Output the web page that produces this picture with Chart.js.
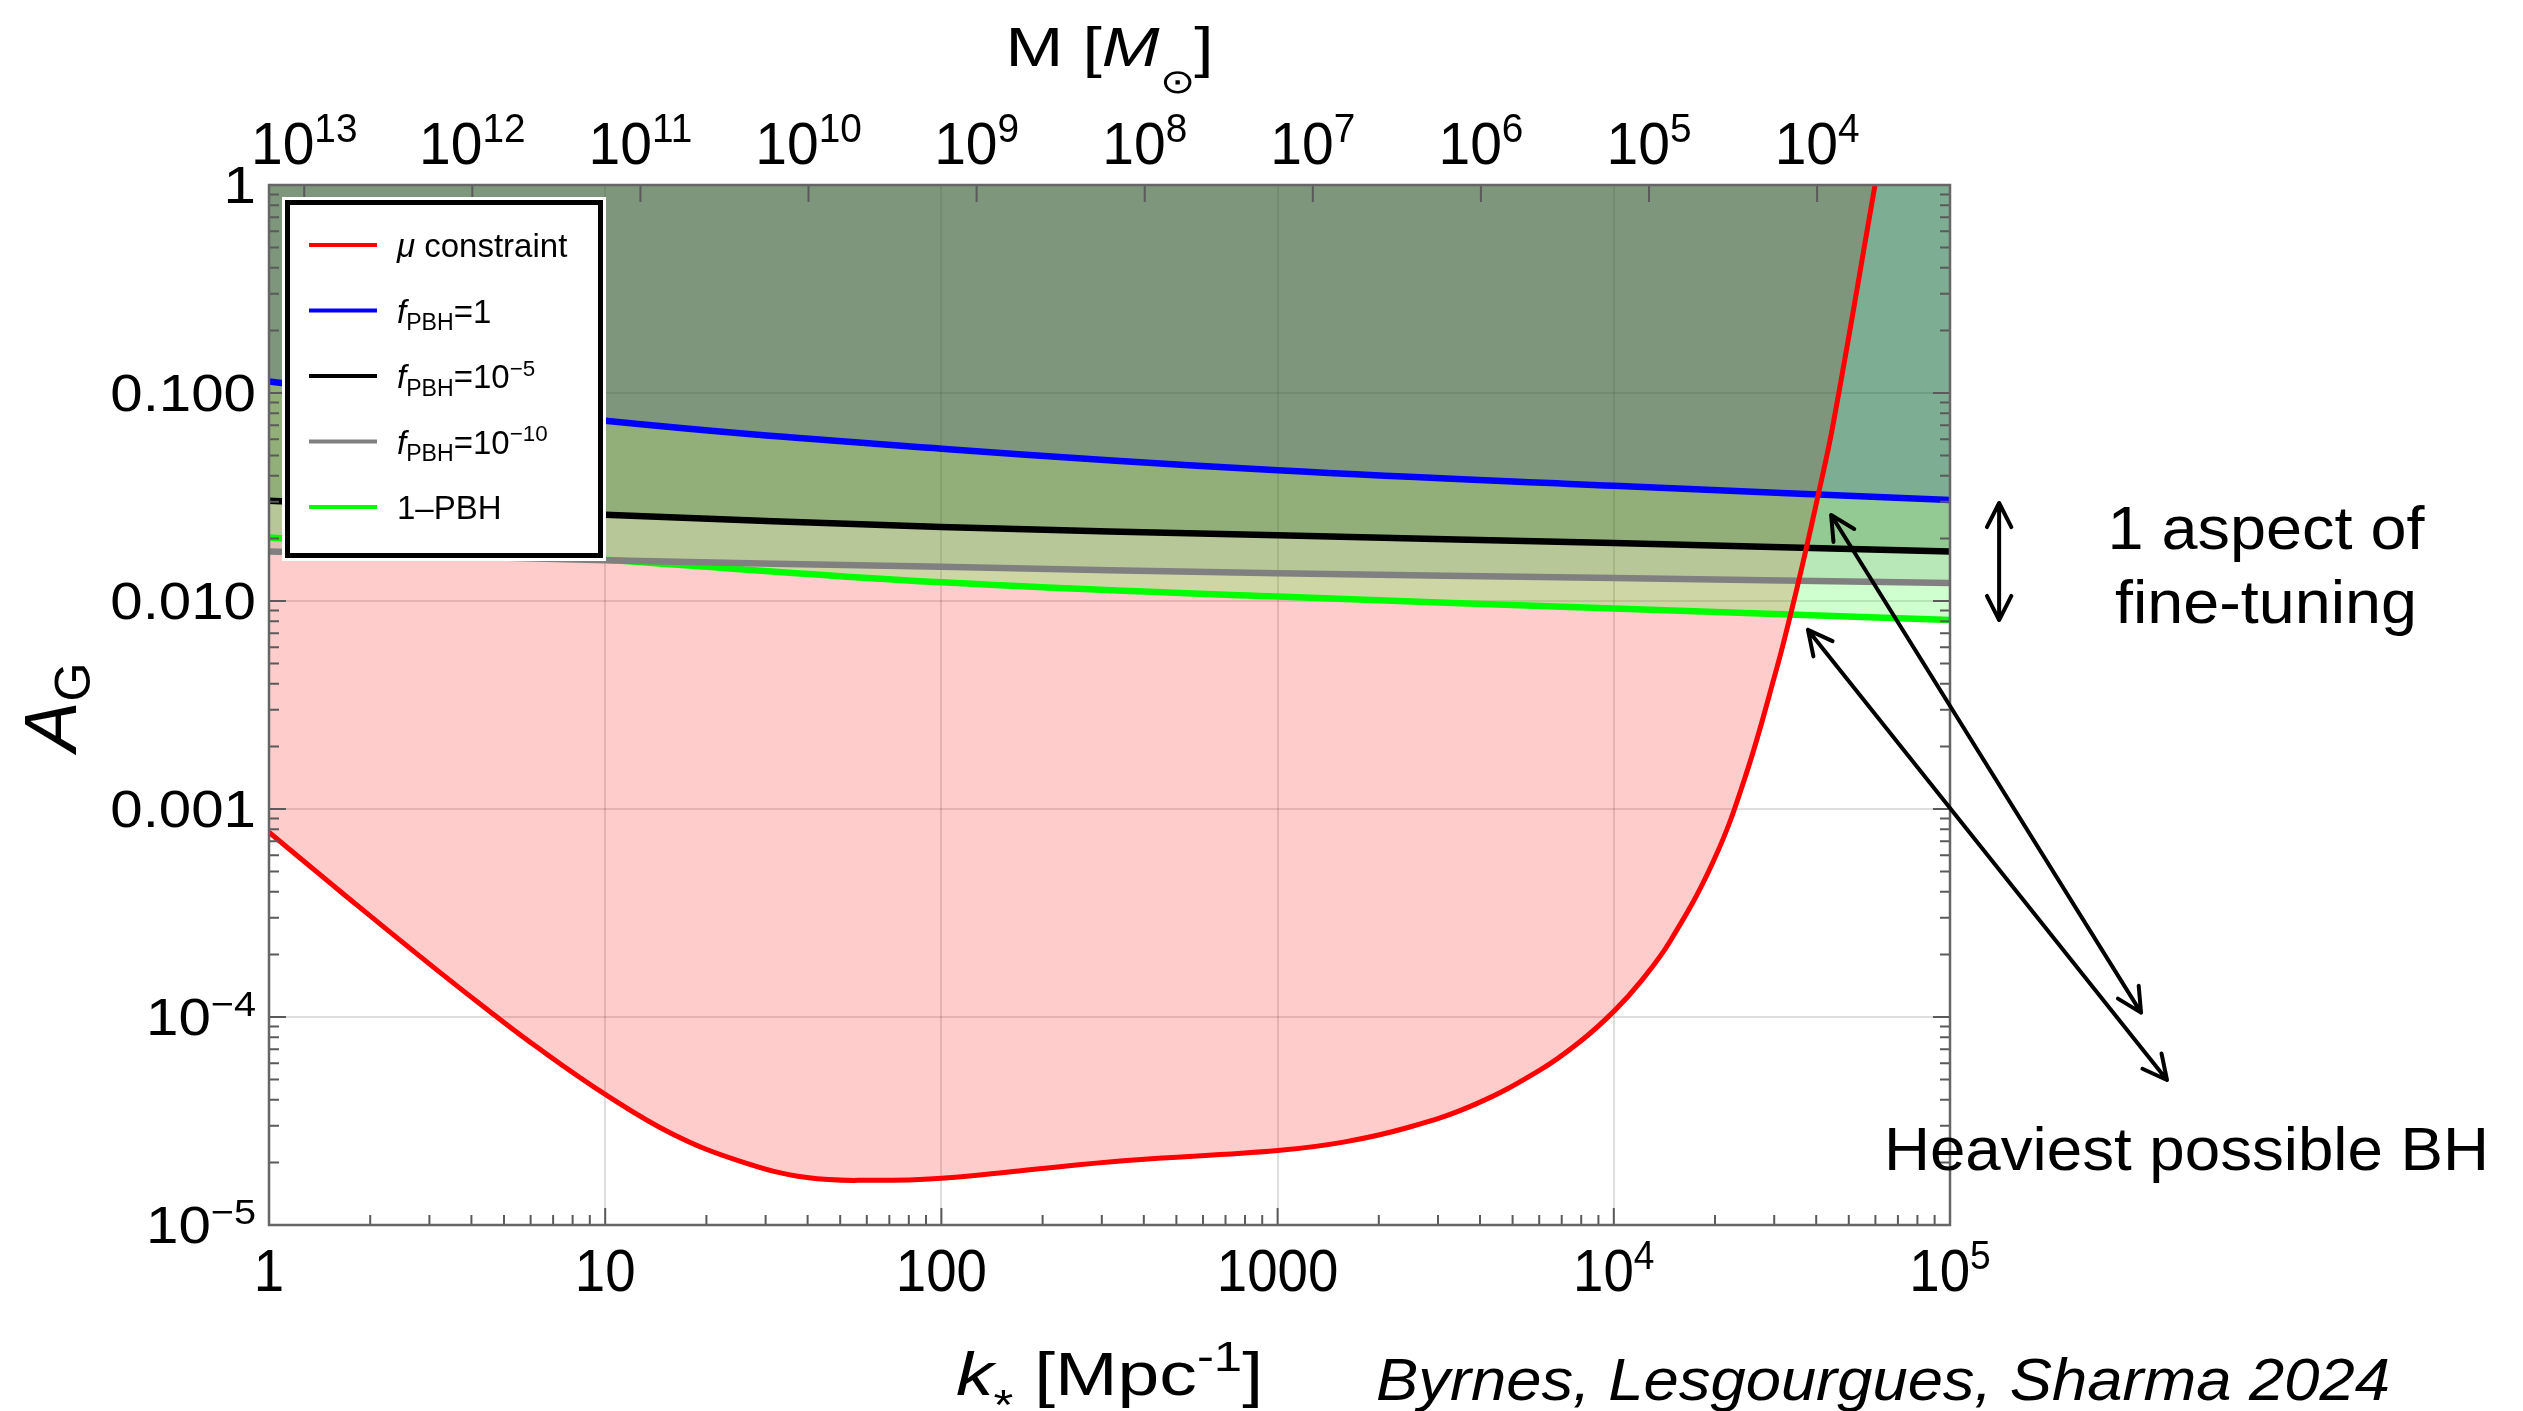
<!DOCTYPE html>
<html>
<head>
<meta charset="utf-8">
<title>A_G constraints</title>
<script src="https://cdn.jsdelivr.net/npm/chart.js@4.4.1/dist/chart.umd.min.js"></script>
<style>
  html, body { margin: 0; padding: 0; background: #fff; }
  canvas { display: block; }
</style>
</head>
<body>
<canvas id="agChart" width="2523" height="1411"></canvas>
<script>
// mu-distortion bound: k_* [Mpc^-1] against A_G
const muK = [1, 1.413, 1.995, 3.162, 4.467, 6.310, 10, 15.85, 25.12, 39.81, 63.10, 100, 169.8, 354.8, 1000, 1585, 2455, 3864, 6026, 7943, 10000, 12020, 14720, 19820, 24770, 30550, 32960, 34990, 37070, 40090, 44870, 59840];
const muA = [7.73e-4, 4.86e-4, 3.07e-4, 1.68e-4, 1.084e-4, 7.11e-5, 4.25e-5, 2.74e-5, 2.03e-5, 1.69e-5, 1.64e-5, 1.68e-5, 1.82e-5, 2.04e-5, 2.28e-5, 2.51e-5, 2.95e-5, 3.80e-5, 5.55e-5, 7.62e-5, 1.064e-4, 1.48e-4, 2.32e-4, 5.65e-4, 1.475e-3, 4.77e-3, 7.66e-3, 0.01138, 0.01694, 0.0298, 0.0702, 1.0];

// PBH abundance curves, sampled once per decade in k_*
const pbhK = [1, 10, 100, 1000, 10000, 100000];
const fPbh1 = [0.1137, 0.0735, 0.0540, 0.0425, 0.0358, 0.0306];
const fPbh1e5 = [0.0303, 0.0260, 0.0227, 0.0207, 0.0190, 0.0173];
const fPbh1e10 = [0.0173, 0.0157, 0.0146, 0.0136, 0.0129, 0.0122];
const onePbh = [0.0202, 0.0158, 0.0123, 0.0105, 0.0092, 0.0081];

const seriesLabels = ['$μ$ constraint', '$f$_{PBH}=1', '$f$_{PBH}=10^{−5}', '$f$_{PBH}=10^{−10}', '1–PBH'];
const seriesColors = ['#ff0000', '#0000ff', '#000000', '#808080', '#00ff00'];

// axes
const kTicks = [1, 10, 100, 1000, 1e4, 1e5];
const kTickLabels = ['1', '10', '100', '1000', '10^{4}', '10^{5}'];
const aTicks = [1, 0.1, 0.01, 0.001, 1e-4, 1e-5];
const aTickLabels = ['1', '0.100', '0.010', '0.001', '10^{−4}', '10^{−5}'];
const mTicks = [1e13, 1e12, 1e11, 1e10, 1e9, 1e8, 1e7, 1e6, 1e5, 1e4];
const mTickLabels = ['10^{13}', '10^{12}', '10^{11}', '10^{10}', '10^{9}', '10^{8}', '10^{7}', '10^{6}', '10^{5}', '10^{4}'];
const mAtK1 = 1.62e13;   // horizon mass at k_* = 1 Mpc^-1, M ~ k^-2

const FONT = '"Liberation Sans", Arial, sans-serif';

function font(size, italic) {
  return (italic ? 'italic ' : '') + size.toFixed(1) + 'px ' + FONT;
}

// "$f$_{PBH}=10^{−5}": $..$ italic, _{..} subscript, ^{..} superscript
function richRuns(str, size) {
  const runs = [];
  const re = /\$([^$]+)\$|_\{([^}]*)\}|\^\{([^}]*)\}|([^$_^]+)/g;
  let m;
  while ((m = re.exec(str))) {
    if (m[1] !== undefined) runs.push({ text: m[1], font: font(size, true) });
    else if (m[2] !== undefined) runs.push({ text: m[2], font: font(size * 0.7), dy: size * 0.24 });
    else if (m[3] !== undefined) runs.push({ text: m[3], font: font(size * 0.68), dy: -size * 0.37 });
    else runs.push({ text: m[4], font: font(size) });
  }
  return runs;
}

// draws a row of runs; sx squeezes horizontally, fit forces a total width
function drawRuns(ctx, runs, x, y, align, sx, fit) {
  let w = 0;
  runs.forEach(r => { ctx.font = r.font; r.w = ctx.measureText(r.text).width; w += r.w; });
  if (fit) sx = fit / w;
  ctx.save();
  ctx.translate(x, y);
  ctx.scale(sx || 1, 1);
  ctx.textAlign = 'left';
  ctx.textBaseline = 'alphabetic';
  let cx = align === 'center' ? -w / 2 : align === 'right' ? -w : 0;
  runs.forEach(r => {
    ctx.font = r.font;
    ctx.fillText(r.text, cx, r.dy || 0);
    cx += r.w;
  });
  ctx.restore();
}

function decadeSubTicks(lo, hi) {
  const out = [];
  for (let d = lo; d <= hi * 1.0001; d *= 10) {
    out.push({ v: d, major: true });
    if (d < hi / 1.0001) {
      for (let m = 2; m <= 9; m++) out.push({ v: m * d, major: false });
    }
  }
  return out;
}

function arrow(ctx, x1, y1, x2, y2, both) {
  const head = (xa, ya, xb, yb) => {
    const ang = Math.atan2(yb - ya, xb - xa);
    const L = 27, spread = 0.47;
    ctx.moveTo(xb - L * Math.cos(ang - spread), yb - L * Math.sin(ang - spread));
    ctx.lineTo(xb, yb);
    ctx.lineTo(xb - L * Math.cos(ang + spread), yb - L * Math.sin(ang + spread));
  };
  ctx.beginPath();
  ctx.moveTo(x1, y1);
  ctx.lineTo(x2, y2);
  head(x1, y1, x2, y2);
  if (both) head(x2, y2, x1, y1);
  ctx.stroke();
}

// inward frame ticks and the plot border
const frameTicks = {
  id: 'frameTicks',
  afterDatasetsDraw(chart) {
    const { ctx, chartArea: a, scales } = chart;
    ctx.save();
    ctx.strokeStyle = '#5a5a5a';
    ctx.lineWidth = 2;
    ctx.beginPath();
    decadeSubTicks(1, 1e5).forEach(({ v, major }) => {
      const px = scales.x.getPixelForValue(v);
      ctx.moveTo(px, a.bottom);
      ctx.lineTo(px, a.bottom - (major ? 17 : 10));
    });
    decadeSubTicks(1e-5, 1).forEach(({ v, major }) => {
      const py = scales.y.getPixelForValue(v);
      const len = major ? 17 : 10;
      ctx.moveTo(a.left, py); ctx.lineTo(a.left + len, py);
      ctx.moveTo(a.right, py); ctx.lineTo(a.right - len, py);
    });
    mTicks.forEach(v => {
      const px = scales.m.getPixelForValue(v);
      ctx.moveTo(px, a.top);
      ctx.lineTo(px, a.top + 17);
    });
    ctx.stroke();
    ctx.lineWidth = 2.5;
    ctx.strokeStyle = '#666';
    ctx.strokeRect(a.left, a.top, a.right - a.left, a.bottom - a.top);
    ctx.restore();
  }
};

// tick labels, axis titles, legend box and the notes on the right
const decorations = {
  id: 'decorations',
  afterDraw(chart) {
    const { ctx, chartArea: a, scales } = chart;
    const { x, y, m } = scales;
    ctx.save();
    ctx.fillStyle = '#000';

    aTicks.forEach((v, i) => {
      drawRuns(ctx, richRuns(aTickLabels[i], 52), a.left - 13, y.getPixelForValue(v) + 18, 'right', 1.12);
    });
    kTicks.forEach((v, i) => {
      drawRuns(ctx, richRuns(kTickLabels[i], 60), x.getPixelForValue(v), a.bottom + 66, 'center', 0.91);
    });
    mTicks.forEach((v, i) => {
      drawRuns(ctx, richRuns(mTickLabels[i], 60), m.getPixelForValue(v), a.top - 21, 'center', 0.95);
    });

    // axis titles
    drawRuns(ctx, [
      { text: 'M [', font: font(56) },
      { text: 'M', font: font(56, true) },
      { text: '⊙', font: font(34), dy: 27 },
      { text: ']', font: font(56) }
    ], (a.left + a.right) / 2, 66, 'center', 1, 208);
    drawRuns(ctx, [
      { text: 'k', font: font(62, true) },
      { text: '*', font: font(42), dy: 24 },
      { text: ' [Mpc', font: font(62) },
      { text: '-1', font: font(42), dy: -24 },
      { text: ']', font: font(62) }
    ], (a.left + a.right) / 2, 1395, 'center', 1, 307);
    ctx.save();
    ctx.translate(76, (a.top + a.bottom) / 2 + 2);
    ctx.rotate(-Math.PI / 2);
    drawRuns(ctx, [
      { text: 'A', font: font(75, true) },
      { text: 'G', font: font(50), dy: 14 }
    ], 0, 0, 'center', 1);
    ctx.restore();
    drawRuns(ctx, [{ text: 'Byrnes, Lesgourgues, Sharma 2024', font: font(59, true) }], 1376, 1400, 'left', 1, 1014);

    // legend
    const lx = 285, ly = 200, lw = 318, lh = 358;
    ctx.fillStyle = '#fff';
    ctx.fillRect(lx - 3, ly - 3, lw + 6, lh + 6);
    ctx.strokeStyle = '#000';
    ctx.lineWidth = 5;
    ctx.strokeRect(lx + 2.5, ly + 2.5, lw - 5, lh - 5);
    seriesLabels.forEach((label, i) => {
      const rowY = 245 + i * 65.5;
      ctx.strokeStyle = seriesColors[i];
      ctx.lineWidth = 4;
      ctx.beginPath();
      ctx.moveTo(309, rowY);
      ctx.lineTo(377, rowY);
      ctx.stroke();
      ctx.fillStyle = '#000';
      drawRuns(ctx, richRuns(label, 33), 397, rowY + 12, 'left', 1);
    });

    // fine-tuning span and the arrows to the heaviest black hole
    ctx.strokeStyle = '#000';
    ctx.lineWidth = 4;
    ctx.lineCap = 'round';
    ctx.lineJoin = 'round';
    const px = v => x.getPixelForValue(v);
    const py = v => y.getPixelForValue(v);
    arrow(ctx, px(1.4e5), py(0.0081), px(1.4e5), py(0.0296), true);
    arrow(ctx, px(3.7e5), py(1.05e-4), px(44300), py(0.0259), true);
    arrow(ctx, px(4.42e5), py(4.98e-5), px(37800), py(0.00726), true);

    ctx.fillStyle = '#000';
    drawRuns(ctx, [{ text: '1 aspect of', font: font(61) }], 2266, 549, 'center', 1, 317);
    drawRuns(ctx, [{ text: 'fine-tuning', font: font(61) }], 2266, 623, 'center', 1, 302);
    drawRuns(ctx, [{ text: 'Heaviest possible BH', font: font(61) }], 1884, 1170, 'left', 1, 605);
    ctx.restore();
  }
};

function series(label, xs, ys, color, fillColor, width) {
  return {
    label,
    data: xs.map((k, i) => ({ x: k, y: ys[i] })),
    borderColor: color,
    backgroundColor: fillColor,
    borderWidth: width,
    fill: 'end',
    pointRadius: 0,
    tension: 0.4
  };
}

const decadeGrid = list => scale => { scale.ticks = list.map(v => ({ value: v })); };
const gridStyle = { color: 'rgba(0,0,0,0.13)', lineWidth: 2, drawTicks: false };

// the excluded (pink) region sits underneath the PBH shadings, its curve on top of everything
const muLine = { ...series(seriesLabels[0], muK, muA, seriesColors[0], 'transparent', 5), fill: false, order: 0 };
const muShade = { ...series(seriesLabels[0], muK, muA, 'transparent', 'rgba(255,0,0,0.2)', 0), order: 9 };

new Chart(document.getElementById('agChart'), {
  type: 'line',
  data: {
    datasets: [
      muLine,
      { ...series(seriesLabels[1], pbhK, fPbh1, seriesColors[1], 'rgba(0,16,146,0.15)', 6.5), order: 1 },
      { ...series(seriesLabels[2], pbhK, fPbh1e5, seriesColors[2], 'rgba(0,80,0,0.2)', 6.5), order: 2 },
      { ...series(seriesLabels[3], pbhK, fPbh1e10, seriesColors[3], 'rgba(90,140,90,0.2)', 6.5), order: 3 },
      { ...series(seriesLabels[4], pbhK, onePbh, seriesColors[4], 'rgba(0,255,0,0.19)', 6.5), order: 4 },
      muShade
    ]
  },
  options: {
    responsive: false,
    animation: false,
    devicePixelRatio: 1,
    events: [],
    layout: { padding: { left: 269, top: 185, right: 573, bottom: 186 } },
    plugins: {
      legend: { display: false },
      tooltip: { enabled: false },
      filler: { drawTime: 'beforeDatasetsDraw' }
    },
    scales: {
      x: {
        type: 'logarithmic', position: 'bottom', min: 1, max: 1e5, bounds: 'data',
        afterBuildTicks: decadeGrid(kTicks),
        afterFit: s => { s.height = 0; },
        ticks: { display: false, autoSkip: false },
        grid: gridStyle,
        border: { display: false }
      },
      y: {
        type: 'logarithmic', position: 'left', min: 1e-5, max: 1, bounds: 'data',
        afterBuildTicks: decadeGrid(aTicks),
        afterFit: s => { s.width = 0; },
        ticks: { display: false, autoSkip: false },
        grid: gridStyle,
        border: { display: false }
      },
      m: {
        type: 'logarithmic', position: 'top', axis: 'x', reverse: true,
        min: mAtK1 / 1e10, max: mAtK1, bounds: 'data',
        afterFit: s => { s.height = 0; },
        ticks: { display: false },
        grid: { display: false, drawTicks: false },
        border: { display: false }
      }
    }
  },
  plugins: [frameTicks, decorations]
});
</script>
</body>
</html>
